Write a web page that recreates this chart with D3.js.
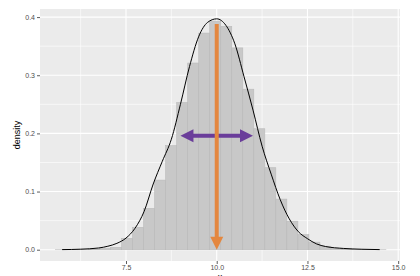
<!DOCTYPE html>
<html>
<head>
<meta charset="utf-8">
<script src="https://cdn.jsdelivr.net/npm/d3@7"></script>
<style>
  body { margin: 0; background: #fff; }
  svg { display: block; font-family: 'Liberation Sans', Arial, sans-serif; }
</style>
</head>
<body>
<svg width="420" height="276"></svg>
<script>
// histogram bins (left/right edges) and densities
const binEdges = [5.558, 5.862, 6.165, 6.469, 6.772, 7.076, 7.379, 7.683, 7.986, 8.290,
    8.593, 8.897, 9.200, 9.504, 9.807, 10.111, 10.414, 10.718, 11.021, 11.325,
    11.628, 11.932, 12.235, 12.539, 12.842, 13.146, 13.449, 13.753, 14.056, 14.360, 14.663];
const binDensity = [0, 0, 0, 0.001, 0.002, 0.004, 0.0196, 0.0385, 0.071, 0.1197,
    0.179, 0.253, 0.321, 0.3725, 0.393, 0.384, 0.347, 0.276, 0.208, 0.141,
    0.087, 0.049, 0.026, 0.013, 0.006, 0.002, 0.001, 0, 0, 0];

// density curve
const curveX = [5.74, 6.25, 6.75, 7.0, 7.25, 7.5, 7.75, 8.0, 8.25, 8.5, 8.75, 9.0, 9.25, 9.5, 9.75,
    10.0, 10.25, 10.5, 10.75, 11.0, 11.25, 11.5, 11.75, 12.0, 12.25, 12.5, 12.75, 13.0, 13.5, 14.0, 14.49];
const curveY = [0.0002, 0.0009, 0.003, 0.006, 0.011, 0.02, 0.037, 0.066, 0.113, 0.152, 0.19, 0.25, 0.315, 0.366, 0.391,
    0.397, 0.386, 0.354, 0.298, 0.24, 0.178, 0.13, 0.086, 0.053, 0.031, 0.019, 0.01, 0.0055, 0.0022, 0.0008, 0.0002];

// annotations
const meanArrow = { x: 10, yFrom: 0.388, yTo: 0 };
const sdArrow = { xFrom: 9, xTo: 11, y: 0.196 };

const xTicks = [7.5, 10, 12.5, 15];
const xMinor = [6.25, 8.75, 11.25, 13.75];
const yTicks = [0, 0.1, 0.2, 0.3, 0.4];
const yMinor = [0.05, 0.15, 0.25, 0.35];

const svg = d3.select('svg');
const panel = { left: 40, right: 400, top: 9, bottom: 261 };

const x = d3.scaleLinear().domain([5.13, 15.05]).range([panel.left, panel.right]);
const y = d3.scaleLinear().domain([-0.0194, 0.4139]).range([panel.bottom, panel.top]);

// panel background + grid
svg.append('rect')
    .attr('x', panel.left).attr('y', panel.top)
    .attr('width', panel.right - panel.left).attr('height', panel.bottom - panel.top)
    .attr('fill', '#ebebeb');

const grid = svg.append('g');
grid.selectAll('.xminor').data(xMinor).enter().append('line')
    .attr('x1', d => x(d)).attr('x2', d => x(d))
    .attr('y1', panel.top).attr('y2', panel.bottom)
    .attr('stroke', '#fff').attr('stroke-width', 0.6);
grid.selectAll('.yminor').data(yMinor).enter().append('line')
    .attr('y1', d => y(d)).attr('y2', d => y(d))
    .attr('x1', panel.left).attr('x2', panel.right)
    .attr('stroke', '#fff').attr('stroke-width', 0.6);
grid.selectAll('.xmajor').data(xTicks).enter().append('line')
    .attr('x1', d => x(d)).attr('x2', d => x(d))
    .attr('y1', panel.top).attr('y2', panel.bottom)
    .attr('stroke', '#fff').attr('stroke-width', 1.1);
grid.selectAll('.ymajor').data(yTicks).enter().append('line')
    .attr('y1', d => y(d)).attr('y2', d => y(d))
    .attr('x1', panel.left).attr('x2', panel.right)
    .attr('stroke', '#fff').attr('stroke-width', 1.1);

// bars
const bins = binDensity.map((d, i) => ({ x0: binEdges[i], x1: binEdges[i + 1], d }));
svg.append('g').selectAll('rect').data(bins).enter().append('rect')
    .attr('x', d => x(d.x0))
    .attr('width', d => x(d.x1) - x(d.x0))
    .attr('y', d => y(d.d))
    .attr('height', d => Math.max(0.01, y(0) - y(d.d)))
    .attr('fill', '#c8c8c8')
    .attr('stroke', '#bababa')
    .attr('stroke-width', 0.6);

// density line
const line = d3.line()
    .x(d => x(d[0])).y(d => y(d[1]))
    .curve(d3.curveMonotoneX);
svg.append('path')
    .attr('d', line(curveX.map((v, i) => [v, curveY[i]])))
    .attr('fill', 'none')
    .attr('stroke', '#000')
    .attr('stroke-width', 1);

// arrows: shaft + closed heads
const headLen = 13, headHalf = 6.5, shaft = 4;
const drawHead = (g, tx, ty, dx, dy, color) => {
    // dx,dy unit direction of arrow at tip
    const bx = tx - dx * headLen, by = ty - dy * headLen;
    const px = -dy * headHalf, py = dx * headHalf;
    g.append('path')
        .attr('d', `M${tx},${ty}L${bx + px},${by + py}L${bx - px},${by - py}Z`)
        .attr('fill', color);
};

const sdG = svg.append('g');
const sx1 = x(sdArrow.xFrom), sx2 = x(sdArrow.xTo), sy = y(sdArrow.y);
sdG.append('line')
    .attr('x1', sx1 + headLen - 1).attr('x2', sx2 - headLen + 1)
    .attr('y1', sy).attr('y2', sy)
    .attr('stroke', '#6a3d9a').attr('stroke-width', shaft);
drawHead(sdG, sx1, sy, -1, 0, '#6a3d9a');
drawHead(sdG, sx2, sy, 1, 0, '#6a3d9a');

const meanG = svg.append('g');
const mx = x(meanArrow.x), my1 = y(meanArrow.yFrom), my2 = y(meanArrow.yTo);
meanG.append('line')
    .attr('x1', mx).attr('x2', mx)
    .attr('y1', my1).attr('y2', my2 - headLen + 1)
    .attr('stroke', '#e4873f').attr('stroke-width', shaft);
drawHead(meanG, mx, my2, 0, 1, '#e4873f');

// axes
const xAxis = svg.append('g')
    .attr('transform', `translate(0,${panel.bottom})`)
    .call(d3.axisBottom(x).tickValues(xTicks).tickFormat(d3.format('.1f')).tickSize(3).tickPadding(1.5));
const yAxis = svg.append('g')
    .attr('transform', `translate(${panel.left},0)`)
    .call(d3.axisLeft(y).tickValues(yTicks).tickFormat(d3.format('.1f')).tickSize(3).tickPadding(2));

[xAxis, yAxis].forEach(a => {
    a.select('.domain').remove();
    a.selectAll('line').attr('stroke', '#333').attr('stroke-width', 0.8);
    a.selectAll('text').attr('fill', '#4d4d4d').attr('font-size', 7)
        .attr('font-family', "'Liberation Sans', Arial, sans-serif");
});

// axis titles
svg.append('text')
    .attr('transform', `translate(20,${(panel.top + panel.bottom) / 2}) rotate(-90)`)
    .attr('text-anchor', 'middle')
    .attr('font-size', 9)
    .attr('fill', '#000')
    .text('density');

svg.append('text')
    .attr('x', (panel.left + panel.right) / 2)
    .attr('y', 280)
    .attr('text-anchor', 'middle')
    .attr('font-size', 9)
    .attr('fill', '#000')
    .text('x');
</script>
</body>
</html>
